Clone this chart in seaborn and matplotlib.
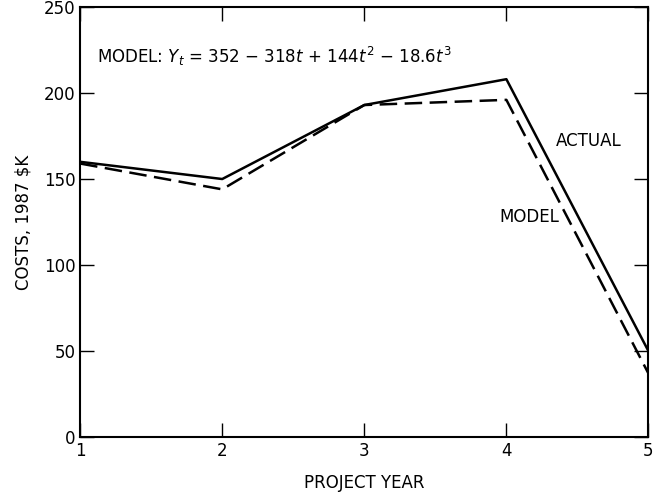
import pandas as pd
import seaborn as sns
import matplotlib.pyplot as plt

years = [1, 2, 3, 4, 5]
actual = [160, 150, 193, 208, 50]
model = [159, 144, 193, 196, 37]
series_names = ['ACTUAL', 'MODEL']

df = pd.DataFrame({
    'year': years * 2,
    'cost': actual + model,
    'series': [series_names[0]] * len(years) + [series_names[1]] * len(years),
})

sns.set_style('ticks')
plt.rcParams['font.family'] = ['DejaVu Sans']
plt.rcParams['mathtext.fontset'] = 'dejavusans'
plt.rcParams['text.color'] = 'black'
plt.rcParams['axes.labelcolor'] = 'black'

fig = plt.figure(figsize=(6.57, 4.94), dpi=100)
ax = fig.add_axes([0.122, 0.115, 0.865, 0.871])

sns.lineplot(data=df, x='year', y='cost', style='series', color='black',
             dashes={'ACTUAL': '', 'MODEL': (7, 3)}, linewidth=1.8,
             legend=False, ax=ax)

ax.set_xlim(1, 5)
ax.set_ylim(0, 250)
ax.set_xticks(years)
ax.set_yticks([0, 50, 100, 150, 200, 250])
ax.tick_params(direction='in', length=10, width=1, labelsize=12,
               top=True, right=True, colors='black')
for s in ax.spines.values():
    s.set_linewidth(1.5)
    s.set_color('black')

ax.set_xlabel('PROJECT YEAR', fontsize=12, labelpad=10)
ax.set_ylabel('COSTS, 1987 $K', fontsize=12, labelpad=8)

ax.text(1.12, 221, r'MODEL: $Y_t$ = 352 $-$ 318$t$ + 144$t^2$ $-$ 18.6$t^3$',
        fontsize=12, va='center')
ax.text(4.35, 172, 'ACTUAL', fontsize=12, va='center')
ax.text(3.95, 128, 'MODEL', fontsize=12, va='center')

fig.savefig('out.png', dpi=100)
